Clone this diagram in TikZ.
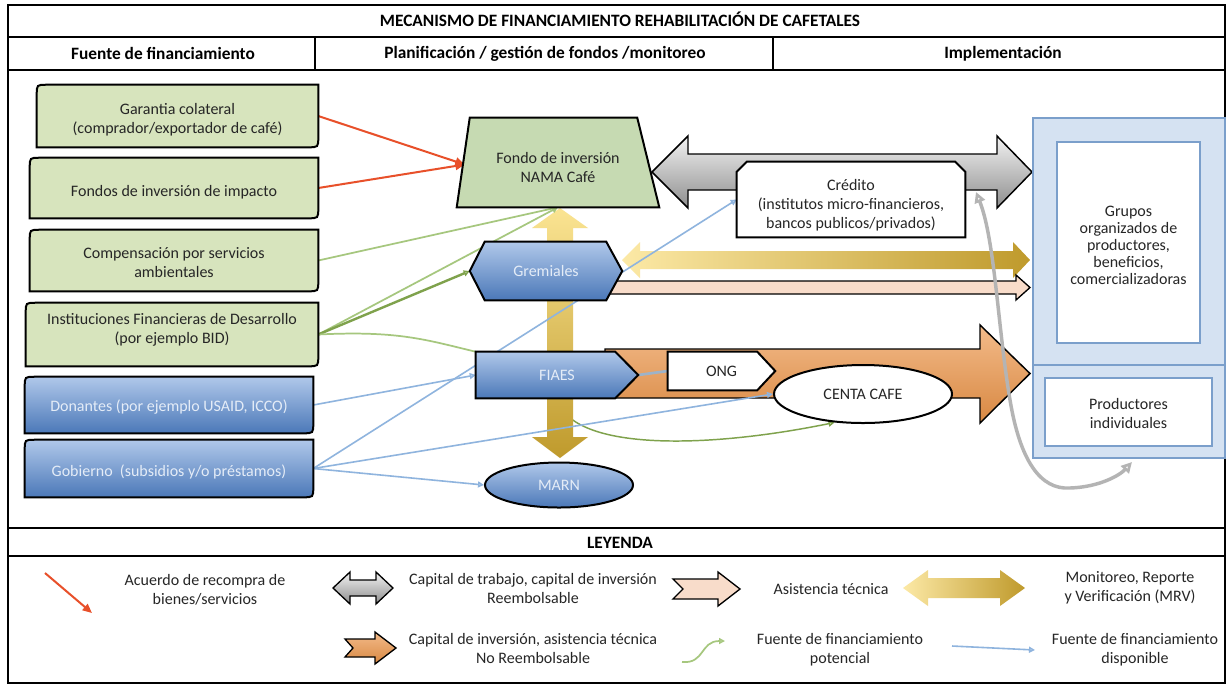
\documentclass[tikz,border=0pt]{standalone}
\usepackage{fontspec}
\setmainfont{Carlito}
\usetikzlibrary{shapes.geometric,arrows.meta,calc}
\pgfdeclarelayer{bg}
\pgfdeclarelayer{low}
\pgfdeclarelayer{arrows}
\pgfdeclarelayer{lines}
\pgfdeclarelayer{shapes}
\pgfdeclarelayer{top}
\pgfsetlayers{bg,low,arrows,lines,shapes,main,top}
\definecolor{txt}{HTML}{262626}
\definecolor{boxgreen}{HTML}{D7E4BD}
\definecolor{fondogreen}{HTML}{C6DAB2}
\definecolor{blueT}{HTML}{B0C8EA}
\definecolor{blueB}{HTML}{4B78B8}
\definecolor{bluetxt}{HTML}{E4ECF7}
\definecolor{grayT}{HTML}{F2F2F2}
\definecolor{grayB}{HTML}{8E8E8E}
\definecolor{yelL}{HTML}{FCE9A6}
\definecolor{yelM}{HTML}{F4D044}
\definecolor{yelD}{HTML}{BF9A2C}
\definecolor{peach}{HTML}{F8DCCA}
\definecolor{orT}{HTML}{F3BB8A}
\definecolor{orB}{HTML}{D88842}
\definecolor{grpfill}{HTML}{D5E2F2}
\definecolor{grpline}{HTML}{7B9FCB}
\definecolor{redln}{HTML}{E8502A}
\definecolor{greenln}{HTML}{A6C77E}
\definecolor{greendk}{HTML}{7FA24C}
\definecolor{blueln}{HTML}{8FB4DE}
\definecolor{ongln}{HTML}{9DB3C9}
\definecolor{curvegray}{HTML}{B4B4B4}
\newcommand\dnstrut[1]{\rule{0pt}{#1pt}}
\tikzset{
  every node/.style={text=txt, font=\fontsize{12}{14.25}\selectfont},
  titletxt/.style={font=\bfseries\fontsize{13}{15}\selectfont, text=black},
  legtxt/.style={align=center, font=\fontsize{12}{14.25}\selectfont},
  frame/.style={line width=1.3pt, draw=black},
  sz/.style 2 args={minimum width=#1*0.75pt, minimum height=#2*0.75pt},
  boxnode/.style={inner sep=0pt, align=center},
  greenbox/.style={draw=black, line width=1.5pt, fill=boxgreen},
  bluebox/.style={draw=black, line width=1.5pt, top color=blueT, bottom color=blueB},
  whiteshape/.style={draw=black, line width=1.5pt, fill=white},
  grpbox/.style={inner sep=0pt, draw=grpline, line width=1.6pt, align=center},
  redarrow/.style={draw=redln, line width=1.5pt, -{Triangle[length=7pt,width=6pt]}},
  greenarrow/.style={draw=greenln, line width=1.3pt, -{Triangle[open,length=4.5pt,width=4.5pt]}},
  bluearrow/.style={draw=blueln, line width=1.2pt, -{Triangle[open,length=4.5pt,width=4.5pt]}},
}
\newcommand\diagoutline[2]{%
  \path[#2] (#1.south west) -- ($(#1.north west)+(0,10)$) .. controls (#1.north west) .. ($(#1.north west)+(10,0)$)
    -- (#1.north east) -- ($(#1.south east)+(0,-10)$) .. controls (#1.south east) .. ($(#1.south east)+(-10,0)$) -- cycle;}
\begin{document}
\begin{tikzpicture}[x=0.75pt,y=-0.75pt]
\begin{pgfonlayer}{bg}
\fill[white] (0,0) rectangle (1227,687);
\end{pgfonlayer}
\useasboundingbox (0,0) rectangle (1227,687);

% ---------- table frame ----------
\draw[frame] (8,5) rectangle (1225,683);
\draw[frame] (8,37) -- (1225,37);
\draw[frame] (8,70) -- (1225,70);
\draw[frame] (8,528) -- (1225,528);
\draw[frame] (8,556) -- (1225,556);
\draw[frame] (315,37) -- (315,70);
\draw[frame] (773,37) -- (773,70);

\node[titletxt] (title) at (620,19) {MECANISMO DE FINANCIAMIENTO REHABILITACIÓN DE CAFETALES};
\node[titletxt] (h1) at (163,53) {Fuente de financiamiento};
\node[titletxt] (h2) at (545,54) {Planificación / gestión de fondos /monitoreo};
\node[titletxt] (h3) at (1003,54) {Implementación};
\node[titletxt] (leyenda) at (620,543) {LEYENDA};

% ---------- source boxes ----------
\node[boxnode, sz={281}{62}] (garantia) at (177.5,116) {\dnstrut{14.4}Garantia colateral\\(comprador/exportador de café)};
\node[boxnode, sz={288}{60}] (fondos) at (174,188) {\dnstrut{14.4}Fondos de inversión de impacto};
\node[boxnode, sz={288}{61}] (compens) at (174,260.5) {\dnstrut{11}Compensación por servicios\\ambientales};
\node[boxnode, sz={292}{63}] (instit) at (172,334.5) {};
\node[boxnode] (institT) at (172,330) {Instituciones Financieras de Desarrollo\\(por ejemplo BID)};
\node[boxnode, text=bluetxt, sz={288}{56}] (donantes) at (169,405) {\dnstrut{12}Donantes (por ejemplo USAID, ICCO)};
\node[boxnode, text=bluetxt, sz={288}{57}] (gobierno) at (169,468.5) {\dnstrut{13.5}Gobierno~~(subsidios y/o préstamos)};
\begin{pgfonlayer}{shapes}
\diagoutline{garantia}{greenbox}
\diagoutline{fondos}{greenbox}
\diagoutline{compens}{greenbox}
\diagoutline{instit}{greenbox}
\diagoutline{donantes}{bluebox}
\diagoutline{gobierno}{bluebox}
\end{pgfonlayer}

% ---------- middle nodes ----------
\node[boxnode, sz={202}{89}] (fondo) at (558,162.5) {\dnstrut{16}Fondo de inversión\\NAMA Café};
\coordinate (fondoL) at ($(fondo.west)+(8,2)$);
\node[boxnode, sz={228}{75}] (credito) at (851,199.5) {\dnstrut{17.5}Crédito\\(institutos micro-financieros,\\bancos publicos/privados)};
\node[boxnode, text=bluetxt, sz={152}{58}] (gremiales) at (546,271) {Gremiales};
\node[boxnode, text=bluetxt, sz={162}{46}] (fiaes) at (557,375) {FIAES};
\node[boxnode, sz={107}{38}] (ong) at (721.5,371) {ONG};
\node[ellipse, draw=black, line width=1.5pt, fill=white, inner sep=0pt, sz={178}{58}] (centa) at (863,394) {CENTA CAFE};
\node[ellipse, draw=black, line width=1.5pt, top color=blueT, bottom color=blueB, text=bluetxt, inner sep=0pt,
      sz={148}{45}] (marn) at (559,485) {MARN};
\begin{pgfonlayer}{shapes}
\path[draw=black, line width=1.5pt, fill=fondogreen] (fondo.south west) -- ($(fondo.north west)+(13,0)$)
   -- ($(fondo.north east)+(-22,0)$) -- (fondo.south east) -- cycle;
\path[whiteshape] (credito.south west) -- ($(credito.north west)+(0,10)$) -- ($(credito.north west)+(10,0)$)
   -- ($(credito.north east)+(-10,0)$) -- ($(credito.north east)+(0,10)$) -- (credito.south east) -- cycle;
\path[bluebox] (gremiales.west) -- ($(gremiales.north west)+(15,0)$) -- ($(gremiales.north east)+(-16,0)$)
   -- (gremiales.east) -- ($(gremiales.south east)+(-16,0)$) -- ($(gremiales.south west)+(15,0)$) -- cycle;
\path[bluebox] (fiaes.north west) -- ($(fiaes.north east)+(-23,0)$) -- (fiaes.east)
   -- ($(fiaes.south east)+(-23,0)$) -- (fiaes.south west) -- cycle;
\path[whiteshape] (ong.north west) -- ($(ong.north east)+(-18,0)$) -- (ong.east)
   -- ($(ong.south east)+(-18,0)$) -- (ong.south west) -- cycle;
\end{pgfonlayer}

% ---------- implementation boxes ----------
\node[grpbox, fill=grpfill, sz={192}{247}] (grupos) at (1129,241.5) {};
\node[grpbox, fill=grpfill, sz={192}{93}] (indivbox) at (1129,411.5) {};
\node[grpbox, fill=white, font=\fontsize{12}{12.9}\selectfont, sz={143}{201}] (gruposin) at (1128.5,242.5)
  {\dnstrut{12.2}Grupos\\organizados de\\productores,\\beneficios,\\comercializadoras};
\node[grpbox, fill=white, sz={167}{68}] (indiv) at (1128.5,412) {\dnstrut{11}Productores\\individuales};

% ---------- big arrows ----------
\begin{pgfonlayer}{arrows}
\path[draw=black, line width=1.1pt, top color=grayT, bottom color=grayB]
  (652,172) -- (688,136) -- (688,154) -- (997,154) -- (997,136) -- (1032,172)
  -- (997,208) -- (997,190) -- (688,190) -- (688,208) -- cycle;
\path[left color=yelL, middle color=yelM, right color=yelD]
  (622,260) -- (640,242) -- (640,251) -- (1013,251) -- (1013,242) -- (1030,260)
  -- (1013,278) -- (1013,269) -- (640,269) -- (640,278) -- cycle;
\path[draw=black, line width=1pt, fill=peach]
  (605,281) -- (1016,281) -- (1016,275) -- (1030,287.5) -- (1016,300) -- (1016,294) -- (605,294) -- cycle;
\path[draw=black, line width=1.1pt, top color=orT, bottom color=orB]
  (605,349) -- (980,349) -- (980,325) -- (1030,373.5) -- (980,423) -- (980,398) -- (605,398) -- cycle;
\path[top color=yelL!80!yelM, middle color=yelM, bottom color=yelD]
  (560,208) -- (588,228) -- (573,228) -- (573,437) -- (588,437) -- (560,458)
  -- (532,437) -- (547,437) -- (547,228) -- (532,228) -- cycle;
\end{pgfonlayer}

% ---------- connectors ----------
\begin{pgfonlayer}{low}
\draw[greenarrow, draw=greendk, line width=1.1pt] (fiaes.south) .. controls (570,450) and (700,450) .. (centa.225);
\end{pgfonlayer}
\begin{pgfonlayer}{lines}
\draw[redarrow] (garantia.east) -- (fondoL);
\draw[redarrow] (fondos.east) -- (fondoL);
\draw[greenarrow] (compens.east) -- (fondo.south);
\draw[greenarrow] (instit.east) -- (fondo.south);
\draw[greenarrow, draw=greendk, line width=1.8pt] (instit.east) -- (gremiales.west);
\draw[draw=greenln, line width=1.3pt] (instit.east) .. controls +(80,-4) and +(-50,-12) .. (fiaes.north west);
\draw[bluearrow] (donantes.east) -- (fiaes.west);
\draw[bluearrow] (gobierno.east) -- (credito.west);
\draw[bluearrow] (gobierno.east) -- (centa.west);
\draw[bluearrow] (gobierno.east) -- (marn.west);
\draw[draw=ongln, line width=2pt] (fiaes.east) -- (ong.west);
\end{pgfonlayer}
\coordinate (gc1) at (976,192);
\coordinate (gc2) at (1132,462);
\begin{pgfonlayer}{top}
\draw[curvegray, line width=2.6pt, {Triangle[open,length=8pt,width=8pt]}-{Triangle[open,length=8pt,width=8pt]}]
  (gc1) .. controls (995,240) and (998,330) .. (1010,400) .. controls (1020,460) and (1040,490) .. (1070,488)
  .. controls (1100,487) and (1120,475) .. (gc2);
\end{pgfonlayer}

% ---------- legend ----------
\coordinate (lr1) at (45,573);
\coordinate (lr2) at (92,613);
\draw[redarrow] (lr1) -- (lr2);
\node[legtxt] (lt1) at (205,590) {Acuerdo de recompra de\\bienes/servicios};
\path[draw=black, line width=1pt, top color=grayT, bottom color=grayB]
  (333,588) -- (350,572) -- (350,580) -- (376,580) -- (376,572) -- (393,588)
  -- (376,604) -- (376,596) -- (350,596) -- (350,604) -- cycle;
\node[legtxt] (lt2) at (533,588) {Capital de trabajo, capital de inversión\\Reembolsable};
\path[draw=black, line width=1pt, fill=peach]
  (673,579) -- (718,579) -- (718,572) -- (740,589) -- (718,606) -- (718,599) -- (673,599) -- (683,589) -- cycle;
\node[legtxt] (lt3) at (831,589) {Asistencia técnica};
\path[left color=yelL, middle color=yelM, right color=yelD]
  (903,588) -- (928,570) -- (928,578) -- (1000,578) -- (1000,570) -- (1025,588)
  -- (1000,606) -- (1000,598) -- (928,598) -- (928,606) -- cycle;
\node[legtxt] (lt4) at (1130,588) {Monitoreo, Reporte\\y Verificación (MRV)};
\path[draw=black, line width=1pt, top color=orT, bottom color=orB]
  (345,639) -- (375,639) -- (375,632) -- (396,648) -- (375,664) -- (375,657) -- (345,657) -- (353,648) -- cycle;
\node[legtxt] (lt5) at (533,648) {Capital de inversión, asistencia técnica\\No Reembolsable};
\coordinate (lg1) at (682,662);
\coordinate (lg2) at (725,641);
\draw[greenarrow] (lg1) .. controls (705,664) and (700,641) .. (lg2);
\node[legtxt] (lt6) at (840,650) {Fuente de financiamiento\\potencial};
\coordinate (lb1) at (952,646);
\coordinate (lb2) at (1035,650);
\draw[bluearrow] (lb1) -- (lb2);
\node[legtxt] (lt7) at (1135,650) {Fuente de financiamiento\\disponible};
\end{tikzpicture}
\end{document}
